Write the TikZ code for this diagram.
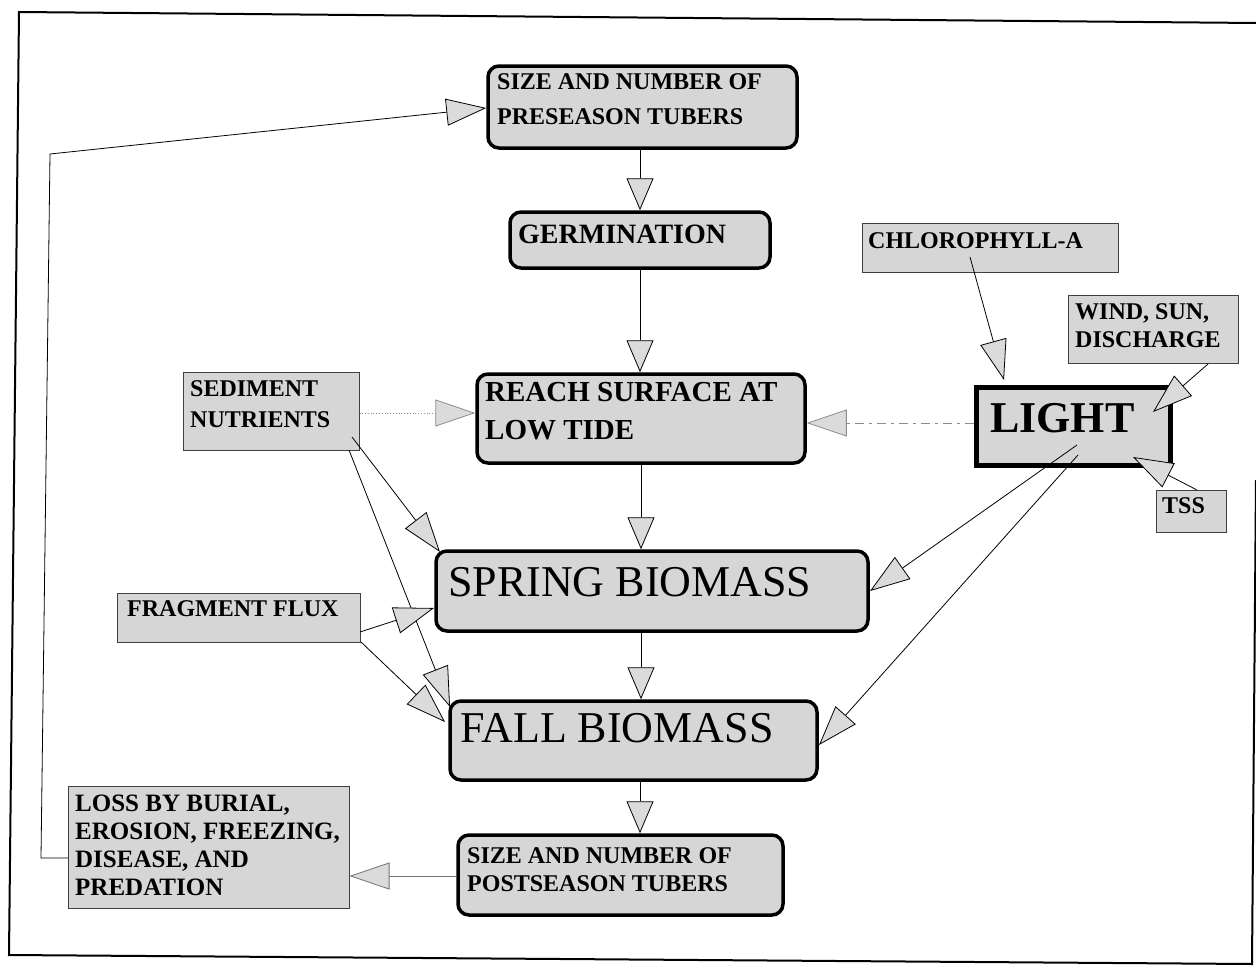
\documentclass[tikz,border=0pt]{standalone}
\usepackage{fontspec}
\setmainfont{Liberation Serif}
\usetikzlibrary{arrows.meta}
\definecolor{boxfill}{gray}{0.84}
\definecolor{tipfill}{gray}{0.86}
\begin{document}
\begin{tikzpicture}[x=1bp,y=-1bp,
  rbox/.style={draw=black, line width=3.5bp, rounded corners=11bp, fill=boxfill, inner sep=0},
  sbox/.style={draw=black!75, line width=1bp, fill=boxfill, inner sep=0},
  lbox/.style={draw=black, line width=5bp, fill=boxfill, inner sep=0},
  txt/.style={inner sep=0, anchor=north west, align=left},
  bt/.style={txt, font=\bfseries\fontsize{#1bp}{#1bp}\selectfont},
  arr/.style={draw=black, line width=0.8bp, -{Triangle[length=40bp,width=27bp,fill=tipfill,line width=0.8bp]}},
  varr/.style={draw=black, line width=0.8bp, -{Triangle[length=32bp,width=27bp,fill=tipfill,line width=0.8bp]}},
  frame/.style={draw=black, line width=2bp}
]
\useasboundingbox (0,0) rectangle (1256,972);
\fill[white] (0,0) rectangle (1256,972);

% outer frame
\draw[frame] (1256,23) -- (19,12) -- (9,955) -- (1252,964) -- (1256,480);

% boxes
\node[rbox, minimum width=309bp, minimum height=82bp] (pre) at (642.5,107) {};
\node[rbox, minimum width=260bp, minimum height=56bp] (germ) at (640,240) {};
\node[rbox, minimum width=328bp, minimum height=89bp] (reach) at (641,418.5) {};
\node[rbox, minimum width=432bp, minimum height=80bp] (spring) at (652,591) {};
\node[rbox, minimum width=367bp, minimum height=79bp] (fall) at (633.5,740.5) {};
\node[rbox, minimum width=325bp, minimum height=80bp] (post) at (620.5,875) {};
\node[sbox, minimum width=256bp, minimum height=49bp] (chl) at (990,247.5) {};
\node[sbox, minimum width=170bp, minimum height=68bp] (wind) at (1153,329) {};
\node[lbox, minimum width=194bp, minimum height=78bp] (light) at (1073,426) {};
\node[sbox, minimum width=70bp, minimum height=42bp] (tss) at (1191,511) {};
\node[sbox, minimum width=176bp, minimum height=78bp] (sed) at (271,411) {};
\node[sbox, minimum width=242bp, minimum height=49bp] (frag) at (239,617.5) {};
\node[sbox, minimum width=280bp, minimum height=122bp] (loss) at (209,847) {};

% texts
\node[bt=24, font=\bfseries\fontsize{24bp}{35bp}\selectfont] (preT) at (497,73) {SIZE AND NUMBER OF\\PRESEASON TUBERS};
\node[bt=28] (germT) at (518,225) {GERMINATION};
\node[bt=29, font=\bfseries\fontsize{29bp}{38bp}\selectfont] (reachT) at (485,382) {REACH SURFACE AT\\LOW TIDE};
\node[txt, font=\fontsize{44bp}{44bp}\selectfont] (springT) at (448,567) {SPRING BIOMASS};
\node[txt, font=\fontsize{44bp}{44bp}\selectfont] (fallT) at (460,713) {FALL BIOMASS};
\node[bt=24, font=\bfseries\fontsize{24bp}{28bp}\selectfont] (postT) at (467,847) {SIZE AND NUMBER OF\\POSTSEASON TUBERS};
\node[bt=24] (chlT) at (868,232) {CHLOROPHYLL-A};
\node[bt=24, font=\bfseries\fontsize{24bp}{28bp}\selectfont] (windT) at (1075,303) {WIND, SUN,\\DISCHARGE};
\node[bt=44] (lightT) at (990,403) {LIGHT};
\node[bt=24] (tssT) at (1162,497) {TSS};
\node[bt=24, font=\bfseries\fontsize{24bp}{31bp}\selectfont] (sedT) at (190,380) {SEDIMENT\\NUTRIENTS};
\node[bt=24] (fragT) at (127,600) {FRAGMENT FLUX};
\node[bt=25, font=\bfseries\fontsize{25bp}{28bp}\selectfont] (lossT) at (75,795) {LOSS BY BURIAL,\\EROSION, FREEZING,\\DISEASE, AND\\PREDATION};

% connector end points
\coordinate (loopA) at (41,858);
\coordinate (loopB) at (50,154);
\coordinate (chlS) at (970,257);
\coordinate (chlE) at (1004,380);
\coordinate (windS) at (1208,364);
\coordinate (windE) at (1153,412);
\coordinate (tssS) at (1197,490);
\coordinate (tssE) at (1133,457);
\coordinate (sedA) at (352,437);
\coordinate (sedB) at (349,450);
\coordinate (sprTL) at (440,552);
\coordinate (fallTL) at (450,707);
\coordinate (fragA) at (360,632);
\coordinate (fragB) at (361,642);
\coordinate (sprL) at (434,608);
\coordinate (fallL) at (445,722);
\coordinate (lightA) at (1077,445);
\coordinate (lightB) at (1078,455);
\coordinate (sprR) at (870,591);
\coordinate (fallR) at (819,745);

% connectors
\draw[arr] (loss.west |- loopA) -- (loopA) -- (loopB) -- (pre.west |- 0,108);
\draw[varr] (pre.south -| germ) -- (germ.north);
\draw[varr] (germ.south) -- (germ.south |- reach.north);
\draw[varr] (reach.south) -- (reach.south |- spring.north);
\draw[varr] (reach.south |- spring.south) -- (reach.south |- fall.north);
\draw[varr] (germ.south |- fall.south) -- (germ.south |- post.north);
\draw[arr] (chlS) -- (chlE);
\draw[arr] (windS) -- (windE);
\draw[arr] (tssS) -- (tssE);
\draw[arr, draw=black!45, dash pattern=on 9bp off 5bp on 3bp off 5bp] (light.west |- 0,423) -- (reach.east |- 0,423);
\draw[arr, draw=black!45, dotted] (sed.east |- 0,413) -- (reach.west |- 0,413);
\draw[arr] (sedA) -- (sprTL);
\draw[arr] (sedB) -- (fallTL);
\draw[arr] (fragA) -- (sprL);
\draw[arr] (fragB) -- (fallL);
\draw[arr] (lightA) -- (sprR);
\draw[arr] (lightB) -- (fallR);
\draw[arr, draw=black!55] (post.west |- 0,876) -- (loss.east |- 0,876);
\end{tikzpicture}
\end{document}
